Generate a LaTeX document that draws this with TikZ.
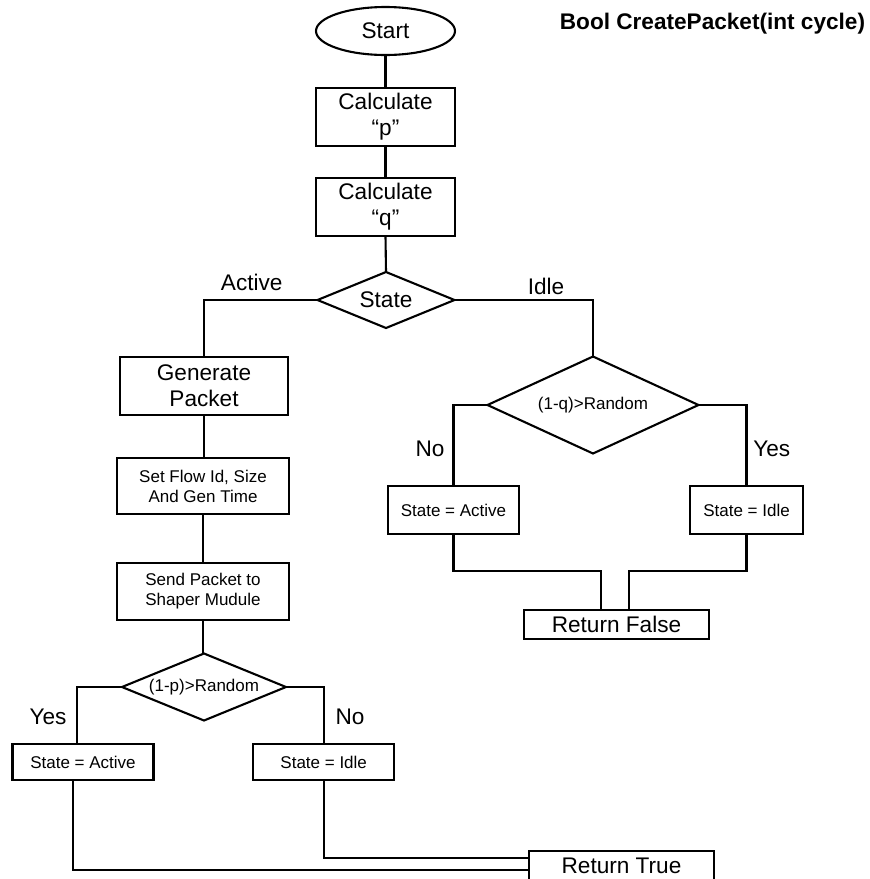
\documentclass[tikz,border=0pt]{standalone}
\usepackage{fontspec}
\setmainfont{Liberation Sans}
\usetikzlibrary{shapes.geometric}
\begin{document}
\begin{tikzpicture}[x=1pt,y=-1pt,
  every node/.style={inner sep=0pt, outer sep=0pt},
  big/.style={font=\fontsize{22.6}{26}\selectfont},
  small/.style={font=\fontsize{17}{20}\selectfont},
  box/.style={draw, line width=2.1pt, rectangle, align=center},
  dec/.style={draw, line width=2.1pt, diamond, align=center, small},
  link/.style={line width=2.1pt}]
\useasboundingbox (0,0) rectangle (870,879);

% title
\node[font=\fontsize{22.6}{26}\selectfont\bfseries] (title) at (712.5,24) {Bool CreatePacket(int cycle)};

% main spine
\node[draw, line width=2.1pt, ellipse, big, minimum width=139, minimum height=48] (start) at (385.5,31) {Start};
\node[box, big, minimum width=139, minimum height=58] (calcp) at (385.5,117) {Calculate\\“p”};
\node[box, big, minimum width=139, minimum height=58] (calcq) at (385.5,207) {Calculate\\“q”};
\node[dec, big, minimum width=137, minimum height=56, aspect=2.45] (state) at (386,300) {State};

% active branch
\node[box, big, minimum width=168, minimum height=58] (gen) at (204,386) {Generate\\Packet};
\node[box, small, minimum width=172, minimum height=56] (setflow) at (203,486) {Set Flow Id, Size\\And Gen Time};
\node[box, small, minimum width=172, minimum height=57] (send) at (203,591.5) {Send Packet to\\Shaper Mudule};
\node[dec, minimum width=164, minimum height=67, aspect=2.45] (pdec) at (204,687) {(1-p)>Random};
\node[box, small, minimum width=141, minimum height=36] (pact) at (83,762) {State = Active};
\node[box, small, minimum width=141, minimum height=36] (pidle) at (323.7,762) {State = Idle};
% this box runs past the lower page edge
\node[box, big, minimum width=185, minimum height=44, text height=9pt, text depth=9pt] (rtrue) at (621.5,873) {Return True};

% idle branch
\node[dec, minimum width=211, minimum height=97, aspect=2.18] (qdec) at (593,405) {(1-q)>Random};
\node[box, small, minimum width=131, minimum height=48] (qact) at (453.5,510) {State = Active};
\node[box, small, minimum width=113, minimum height=48] (qidle) at (746.5,510) {State = Idle};
\node[box, big, minimum width=185, minimum height=29] (rfalse) at (616.5,624.5) {Return False};

% branch labels
\node[big] (lactive) at (251.7,282.7) {Active};
\node[big] (lidle) at (546,286.7) {Idle};
\node[big] (lqno) at (430,449) {No};
\node[big] (lqyes) at (771.7,449) {Yes};
\node[big] (lpyes) at (48,716.7) {Yes};
\node[big] (lpno) at (350,716.7) {No};

% routing points
\coordinate (pyesx) at (77,0);
\coordinate (pactx) at (73.3,0);
\coordinate (tlow) at (0,870);
\coordinate (thigh) at (0,858);
\coordinate (qjoin) at (0,571);
\coordinate (fleft) at (601,0);
\coordinate (fright) at (629,0);

% connectors
\draw[link] (start.south) -- (calcp.north);
\draw[link] (calcp.south) -- (calcq.north);
\draw[link] (calcq.south) -- (state.north);
\draw[link] (state.west) -| (gen.north);
\draw[link] (state.east) -| (qdec.north);
\draw[link] (gen.south) -- (gen.south |- setflow.north);
\draw[link] (setflow.south) -- (send.north);
\draw[link] (send.south) -- (send.south |- pdec.north);
\draw[link] (pdec.west) -| (pyesx |- pact.north);
\draw[link] (pdec.east) -| (pidle.north);
\draw[link] (pactx |- pact.south) -- (pactx |- tlow) -- (rtrue.west |- tlow);
\draw[link] (pidle.south) -- (pidle.south |- thigh) -- (rtrue.west |- thigh);
\draw[link] (qdec.west) -| (qact.north);
\draw[link] (qdec.east) -| (qidle.north);
\draw[link] (qact.south) -- (qact.south |- qjoin) -- (fleft |- qjoin) -- (fleft |- rfalse.north);
\draw[link] (qidle.south) -- (qidle.south |- qjoin) -- (fright |- qjoin) -- (fright |- rfalse.north);
\end{tikzpicture}
\end{document}
